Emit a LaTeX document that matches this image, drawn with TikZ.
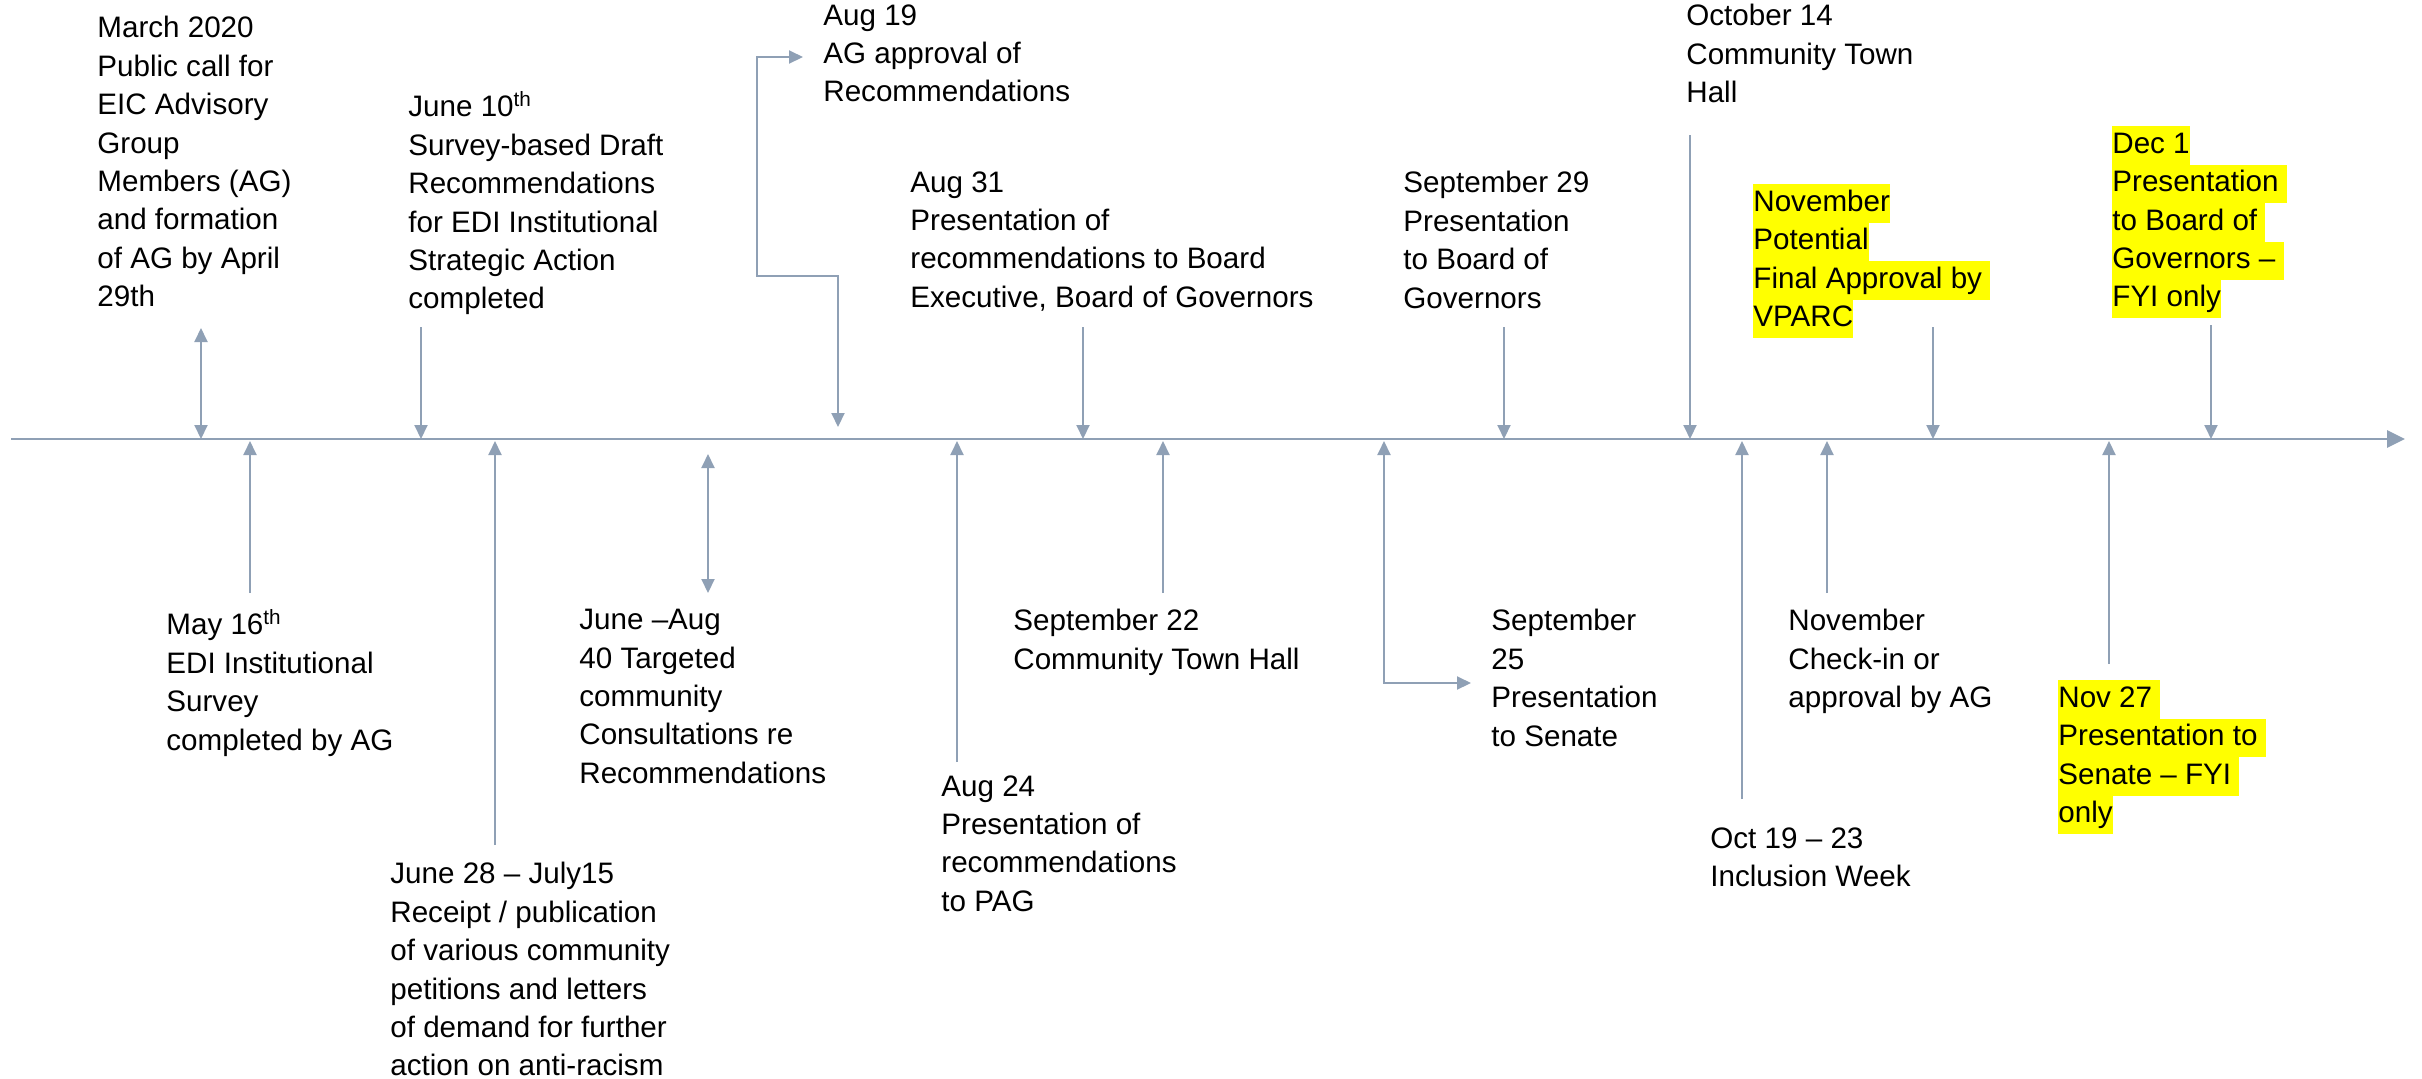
\documentclass[tikz,border=0pt]{standalone}
\usepackage{fontspec}
\setmainfont{Liberation Sans}
\usepackage{xcolor}
\usetikzlibrary{arrows.meta}

\definecolor{linegray}{RGB}{143,160,181}
\definecolor{hlyellow}{RGB}{255,255,0}
\newcommand{\hlt}[1]{{\setlength{\fboxsep}{0pt}\colorbox{hlyellow}{\strut#1}}}

\begin{document}
\begin{tikzpicture}[
  x=0.5pt, y=-0.5pt,
  event/.style={anchor=north west, inner sep=0pt, align=left,
    font=\fontsize{14.8pt}{19.2pt}\selectfont, execute at begin node=\strut},
  tick/.style={draw=linegray, line width=1pt, -{Triangle[length=7pt,width=6.5pt]}},
  twoway/.style={tick, {Triangle[length=7pt,width=6.5pt]}-{Triangle[length=7pt,width=6.5pt]}},
  axis/.style={draw=linegray, line width=1.4pt, -{Triangle[length=9pt,width=8.5pt]}}
]
\useasboundingbox (0,0) rectangle (2422,1078);

% Time axis
\coordinate (ax-l) at (11,439);
\coordinate (ax-r) at (2405,439);
\draw[axis] (ax-l) -- (ax-r);

% Top: events above the axis
\node[event] (mar) at (97,16) {March 2020\\Public call for\\EIC Advisory\\Group\\Members (AG)\\and formation\\of AG by April\\29th};
\node[event] (jun10) at (408,91) {June 10\textsuperscript{th}\\Survey-based Draft\\Recommendations\\for EDI Institutional\\Strategic Action\\completed};
\node[event] (aug19) at (823,4) {Aug 19\\AG approval of\\Recommendations};
\node[event] (aug31) at (910,171) {Aug 31\\Presentation of\\recommendations to Board\\Executive, Board of Governors};
\node[event] (sep29) at (1403,171) {September 29\\Presentation\\to Board of\\Governors};
\node[event] (oct14) at (1686,4) {October 14\\Community Town\\Hall};
\node[event] (novfa) at (1753,184) {\hlt{November}\\\hlt{Potential}\\\hlt{Final Approval by\ }\\\hlt{VPARC}};
\node[event] (dec1) at (2112,126) {\hlt{Dec 1}\\\hlt{Presentation\ }\\\hlt{to Board of\ }\\\hlt{Governors –\ }\\\hlt{FYI only}};

% Bottom: events below the axis
\node[event] (may16) at (166,609) {May 16\textsuperscript{th}\\EDI Institutional\\Survey\\completed by AG};
\node[event] (jun28) at (390,862) {June 28 – July15\\Receipt / publication\\of various community\\petitions and letters\\of demand for further\\action on anti-racism};
\node[event] (junaug) at (579,609) {June –Aug\\40 Targeted\\community\\Consultations re\\Recommendations};
\node[event] (aug24) at (941,775) {Aug 24\\Presentation of\\recommendations\\to PAG};
\node[event] (sep22) at (1013,609) {September 22\\Community Town Hall};
\node[event] (sep25) at (1491,609) {September\\25\\Presentation\\to Senate};
\node[event] (oct19) at (1710,827) {Oct 19 – 23\\Inclusion Week};
\node[event] (novck) at (1788,609) {November\\Check-in or\\approval by AG};
\node[event] (nov27) at (2058,680) {\hlt{Nov 27\ }\\\hlt{Presentation to\ }\\\hlt{Senate – FYI\ }\\\hlt{only}};

% Connectors above the axis
\coordinate (mar-a) at (201,328);
\coordinate (jun10-a) at (421,327);
\coordinate (aug19-a) at (803,57);
\coordinate (aug19-k) at (757,276);
\coordinate (aug19-b) at (838,427);
\coordinate (aug31-a) at (1083,327);
\coordinate (sep29-a) at (1504,327);
\coordinate (oct14-a) at (1690,135);
\coordinate (novfa-a) at (1933,327);
\coordinate (dec1-a) at (2211,325);
\draw[twoway] (mar-a) -- (mar-a |- ax-l);
\draw[tick] (jun10-a) -- (jun10-a |- ax-l);
\draw[twoway] (aug19-a) -| (aug19-k) -| (aug19-b);
\draw[tick] (aug31-a) -- (aug31-a |- ax-l);
\draw[tick] (sep29-a) -- (sep29-a |- ax-l);
\draw[tick] (oct14-a) -- (oct14-a |- ax-l);
\draw[tick] (novfa-a) -- (novfa-a |- ax-l);
\draw[tick] (dec1-a) -- (dec1-a |- ax-l);

% Connectors below the axis
\coordinate (ax-b) at (0,441);
\coordinate (may16-a) at (250,593);
\coordinate (jun28-a) at (495,845);
\coordinate (junaug-a) at (708,454);
\coordinate (junaug-b) at (708,593);
\coordinate (aug24-a) at (957,762);
\coordinate (sep22-a) at (1163,593);
\coordinate (sep25-a) at (1384,441);
\coordinate (sep25-b) at (1471,683);
\coordinate (oct19-a) at (1742,799);
\coordinate (novck-a) at (1827,593);
\coordinate (nov27-a) at (2109,664);
\draw[tick] (may16-a) -- (may16-a |- ax-b);
\draw[tick] (jun28-a) -- (jun28-a |- ax-b);
\draw[twoway] (junaug-a) -- (junaug-b);
\draw[tick] (aug24-a) -- (aug24-a |- ax-b);
\draw[tick] (sep22-a) -- (sep22-a |- ax-b);
\draw[twoway] (sep25-a) |- (sep25-b);
\draw[tick] (oct19-a) -- (oct19-a |- ax-b);
\draw[tick] (novck-a) -- (novck-a |- ax-b);
\draw[tick] (nov27-a) -- (nov27-a |- ax-b);

\end{tikzpicture}
\end{document}
